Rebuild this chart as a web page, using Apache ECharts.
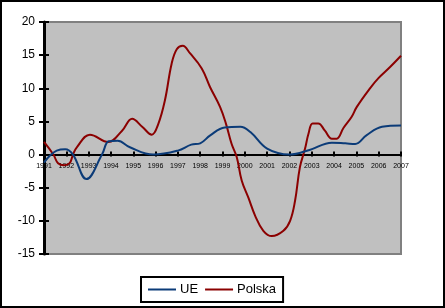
<!DOCTYPE html>
<html>
<head>
<meta charset="utf-8">
<script src="https://cdn.jsdelivr.net/npm/echarts@6/dist/echarts.min.js"></script>
<style>
html,body{margin:0;padding:0;background:#fff;}
#c{width:445px;height:308px;}
</style>
</head>
<body>
<div id="c"></div>
<script>
// Tick labels (years)
var years = [1991,1992,1993,1994,1995,1996,1997,1998,1999,2000,2001,2002,2003,2004,2005,2006,2007];
var yTicks = [-15,-10,-5,0,5,10,15,20];

// Series: UE (x = year position, y = value)
var ueX = [1991.0,1991.27,1991.57,1991.95,1992.3,1992.9,1993.6,1993.9,1994.3,1994.85,1995.9,1997.0,1997.6,1998.0,1998.45,1999.1,1999.8,2000.25,2001.0,2002.0,2002.9,2003.9,2004.5,2004.95,2005.45,2006.15,2007.0];
var ueY = [-1.2,-0.15,0.6,0.8,0.0,-3.7,0.0,2.0,2.1,1.1,0.0,0.6,1.5,1.7,2.9,4.1,4.2,3.4,0.9,0.0,0.7,1.8,1.7,1.6,2.9,4.2,4.4];

// Series: Polska
var plX = [1991.0,1991.42,1991.63,1991.9,1992.15,1992.3,1992.47,1993.06,1993.88,1994.5,1994.95,1995.4,1995.83,1996.12,1996.42,1996.72,1996.95,1997.22,1997.54,1998.07,1998.44,1998.89,1999.16,1999.41,1999.64,1999.86,2000.16,2000.46,2000.83,2001.21,2001.73,2002.03,2002.25,2002.47,2002.7,2002.85,2003.04,2003.29,2003.59,2003.9,2004.12,2004.42,2004.79,2005.02,2005.61,2005.98,2006.51,2007.0];
var plY = [1.9,0.0,-1.3,-1.6,-1.3,0.0,1.1,3.0,1.9,3.6,5.4,4.2,3.0,4.6,8.2,13.7,15.9,16.4,15.3,13.0,10.2,7.2,4.6,1.6,-0.4,-3.9,-6.5,-9.2,-11.5,-12.3,-11.5,-10.0,-7.0,-1.9,0.9,3.1,4.7,4.7,3.6,2.4,2.4,4.0,5.7,7.2,10.0,11.5,13.2,14.9];

function pairs(xs, ys){ return xs.map(function(x,i){ return [x, ys[i]]; }); }

var font = '"Liberation Sans", Arial, sans-serif';
var gridTop = 22, gridBottom = 54, H = 308;
var gridH = H - gridTop - gridBottom;
var yMin = yTicks[0], yMax = yTicks[yTicks.length-1];
// distance from grid bottom up to value 0, so the category axis sits on the zero line
var zeroOffset = -gridH * (0 - yMin) / (yMax - yMin);

var chart = echarts.init(document.getElementById('c'), null, {renderer:'canvas'});
var xCommon = {
  type:'value', min:years[0], max:years[years.length-1], interval:1,
  splitLine:{show:false}, position:'bottom', offset:zeroOffset
};
chart.setOption({
  animation:false,
  backgroundColor:'#ffffff',
  grid:{left:44, right:44, top:gridTop, bottom:gridBottom, show:true, backgroundColor:'#c0c0c0', borderColor:'#808080', borderWidth:2},
  xAxis:[
    Object.assign({}, xCommon, {
      axisLine:{show:true, onZero:false, lineStyle:{color:'#000', width:2}},
      axisTick:{show:true, length:2, lineStyle:{color:'#000', width:2}},
      axisLabel:{show:true, fontSize:7, color:'#000', fontFamily:font, margin:8,
        formatter:function(v){ return years.indexOf(Math.round(v))>=0 ? String(Math.round(v)) : ''; }}
    }),
    Object.assign({}, xCommon, {
      axisLine:{show:false, onZero:false},
      axisTick:{show:true, inside:true, length:3, lineStyle:{color:'#000', width:2}},
      axisLabel:{show:false}
    })
  ],
  yAxis:[
    {type:'value', min:yMin, max:yMax, interval:5,
     splitLine:{show:false},
     axisLine:{show:true, onZero:false, lineStyle:{color:'#000', width:3}},
     axisTick:{show:true, length:5, lineStyle:{color:'#000', width:2}},
     axisLabel:{fontSize:12, color:'#000', fontFamily:font, margin:9}},
    {type:'value', min:yMin, max:yMax, interval:5, position:'left',
     splitLine:{show:false},
     axisLine:{show:false, onZero:false},
     axisTick:{show:true, inside:true, length:5, lineStyle:{color:'#000', width:2}},
     axisLabel:{show:false}}
  ],
  legend:{
    left:141, top:277, orient:'horizontal',
    padding:[6,7], itemGap:7, itemWidth:28, itemHeight:2, icon:'rect',
    borderColor:'#000', borderWidth:2, backgroundColor:'#fff',
    textStyle:{fontSize:13, color:'#000', fontFamily:font, padding:[0,0,0,-1]},
    data:['UE','Polska']
  },
  series:[
    {name:'UE', type:'line', smooth:0.4, symbol:'none', data:pairs(ueX, ueY),
     color:'#0b3b78', lineStyle:{color:'#0b3b78', width:2}, z:3},
    {name:'Polska', type:'line', smooth:0.4, symbol:'none', data:pairs(plX, plY),
     color:'#8b0000', lineStyle:{color:'#8b0000', width:2}, z:2}
  ],
  graphic:[
    {type:'rect', shape:{x:1, y:1, width:443, height:306}, style:{fill:'none', stroke:'#000', lineWidth:2}, z:100, silent:true}
  ]
});
</script>
</body>
</html>
